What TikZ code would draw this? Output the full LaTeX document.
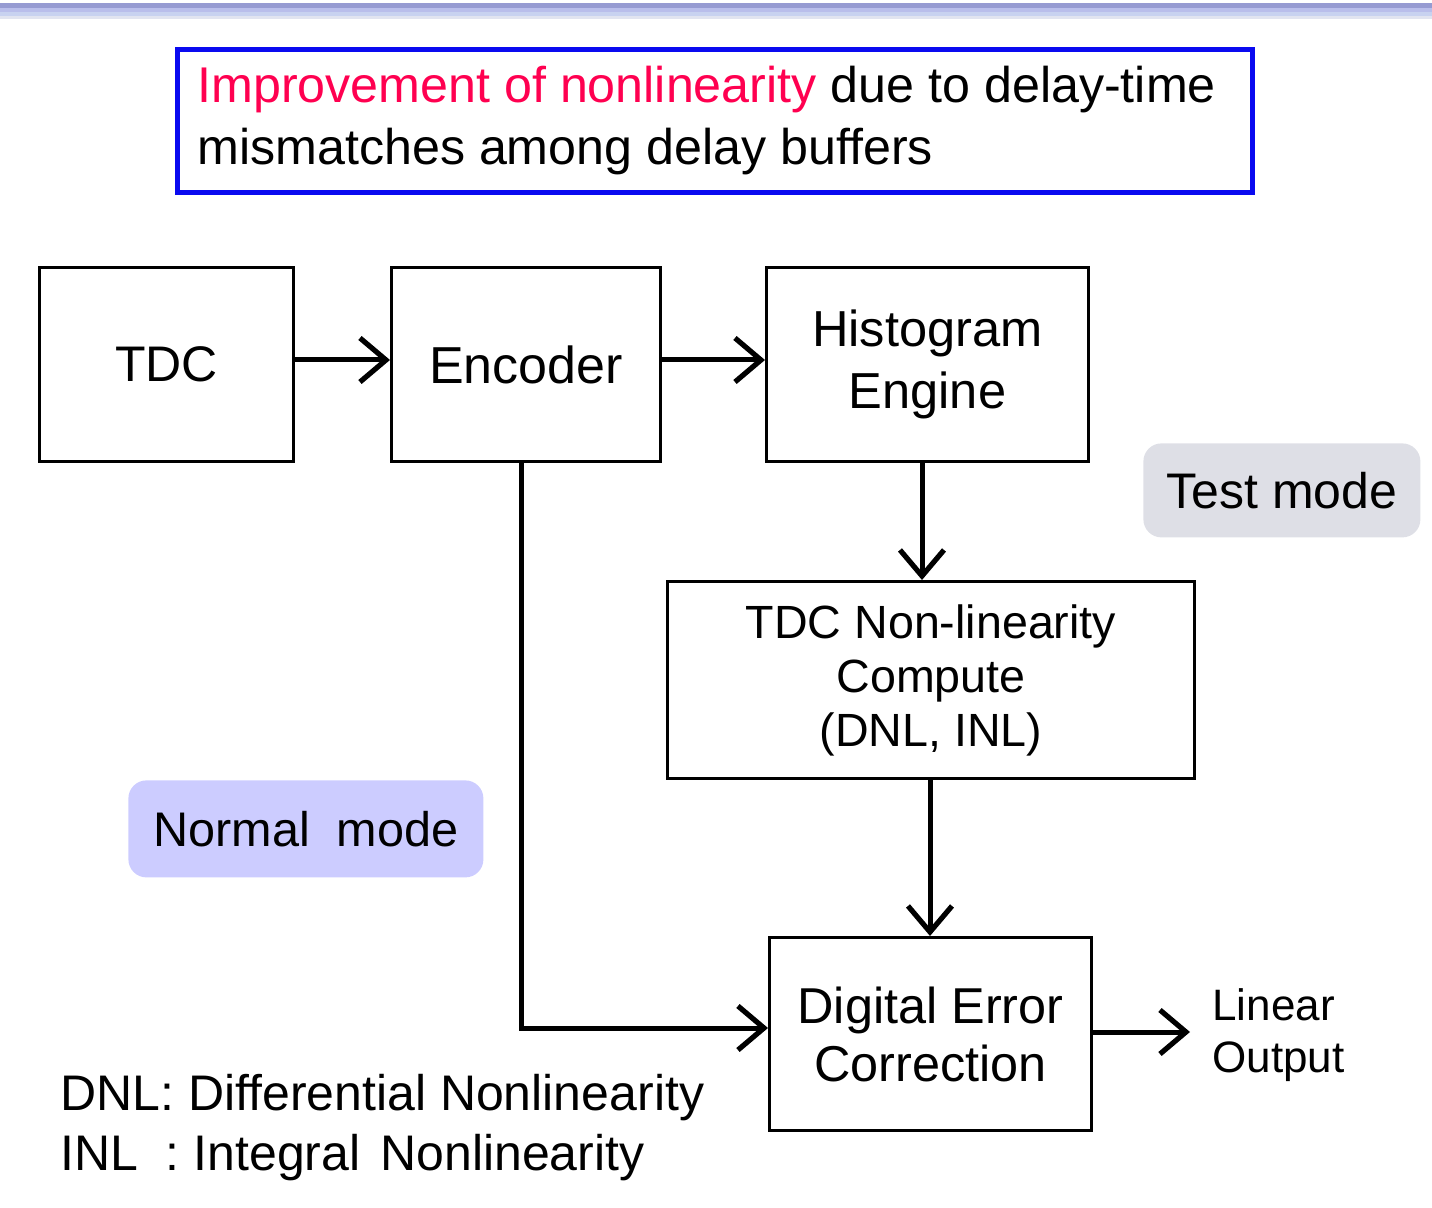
\documentclass[tikz,border=0pt]{standalone}
\usepackage{fontspec}
\setmainfont{Liberation Sans}
\usetikzlibrary{arrows.meta}
\definecolor{titleblue}{RGB}{10,10,240}
\definecolor{titlered}{RGB}{255,0,80}
\definecolor{testgray}{RGB}{222,223,230}
\definecolor{normblue}{RGB}{204,204,255}
\begin{document}
\begin{tikzpicture}[x=0.5pt,y=-0.5pt,
  blk/.style={draw=black,line width=1.5pt,inner sep=0pt,anchor=north west,align=center},
  conn/.style={line width=2.5pt,-{Straight Barb[length=13pt,width=22pt,line width=2.6pt]}},
  modebox/.style={rounded corners=9pt,inner sep=0pt,anchor=north west,align=center}]
\useasboundingbox (0,0) rectangle (1432,1208);
% top gradient band
\fill[fill={rgb,255:red,150;green,155;blue,210}] (0,3) rectangle (1432,8);
\fill[fill={rgb,255:red,185;green,190;blue,235}] (0,8) rectangle (1432,12);
\fill[fill={rgb,255:red,200;green,210;blue,240}] (0,12) rectangle (1432,16);
\fill[fill={rgb,255:red,225;green,228;blue,240}] (0,16) rectangle (1432,19);
% title
\node[draw=titleblue,line width=2.5pt,anchor=north west,minimum width=1075*0.5pt,minimum height=143*0.5pt,inner sep=0pt] (title) at (175,47) {};
\node[anchor=north west,align=left,font=\fontsize{25.1}{31}\selectfont,inner sep=0pt] (titletext) at (197,66)
  {\textcolor{titlered}{Improvement of nonlinearity} due to delay-time\\mismatches among delay buffers};
% blocks
\node[blk,minimum width=254*0.5pt,minimum height=194*0.5pt,font=\fontsize{25}{32}\selectfont] (tdc) at (38,266) {TDC};
\node[blk,minimum width=269*0.5pt,minimum height=194*0.5pt,font=\fontsize{26}{32}\selectfont] (enc) at (390,266) {Encoder};
\node[blk,minimum width=322*0.5pt,minimum height=194*0.5pt,font=\fontsize{25.3}{31}\selectfont] (hist) at (765,266) {Histogram\\Engine};
\node[blk,minimum width=527*0.5pt,minimum height=197*0.5pt,font=\fontsize{23.3}{27}\selectfont] (nonlin) at (666,580) {TDC Non-linearity\\Compute\\(DNL, INL)};
\node[blk,minimum width=322*0.5pt,minimum height=193*0.5pt,font=\fontsize{25.2}{29}\selectfont] (dec) at (768,936) {Digital Error\\Correction};
% mode labels
\node[modebox,fill=testgray,minimum width=277*0.5pt,minimum height=94*0.5pt,font=\fontsize{25}{30}\selectfont] (test) at (1143,443) {Test mode};
\node[modebox,fill=normblue,minimum width=355*0.5pt,minimum height=97*0.5pt,font=\fontsize{24.3}{30}\selectfont] (normal) at (128,780) {Normal\ \ mode};
% output
\coordinate (outend) at (1190,1032);
\node[anchor=west,align=left,font=\fontsize{22}{26}\selectfont,inner sep=0pt] (linout) at (1212,1035) {Linear\\Output};
% legend
\node[anchor=north west,align=left,font=\fontsize{25}{30}\selectfont,inner sep=0pt] (legend) at (60,1074)
  {DNL: Differential Nonlinearity\\INL\ \ : Integral\hspace{10pt}Nonlinearity};
% connectors
\draw[conn] (tdc.east |- 0,360) -- (enc.west |- 0,360);
\draw[conn] (enc.east |- 0,360) -- (hist.west |- 0,360);
\draw[conn] (hist.south -| 922,0) -- (nonlin.north -| 922,0);
\draw[conn] (nonlin.south -| 930,0) -- (dec.north -| 930,0);
\draw[conn] (enc.south -| 521,0) -- (521,1028) -- (dec.west |- 0,1028);
\draw[conn] (dec.east |- 0,1032) -- (outend);
\end{tikzpicture}
\end{document}
